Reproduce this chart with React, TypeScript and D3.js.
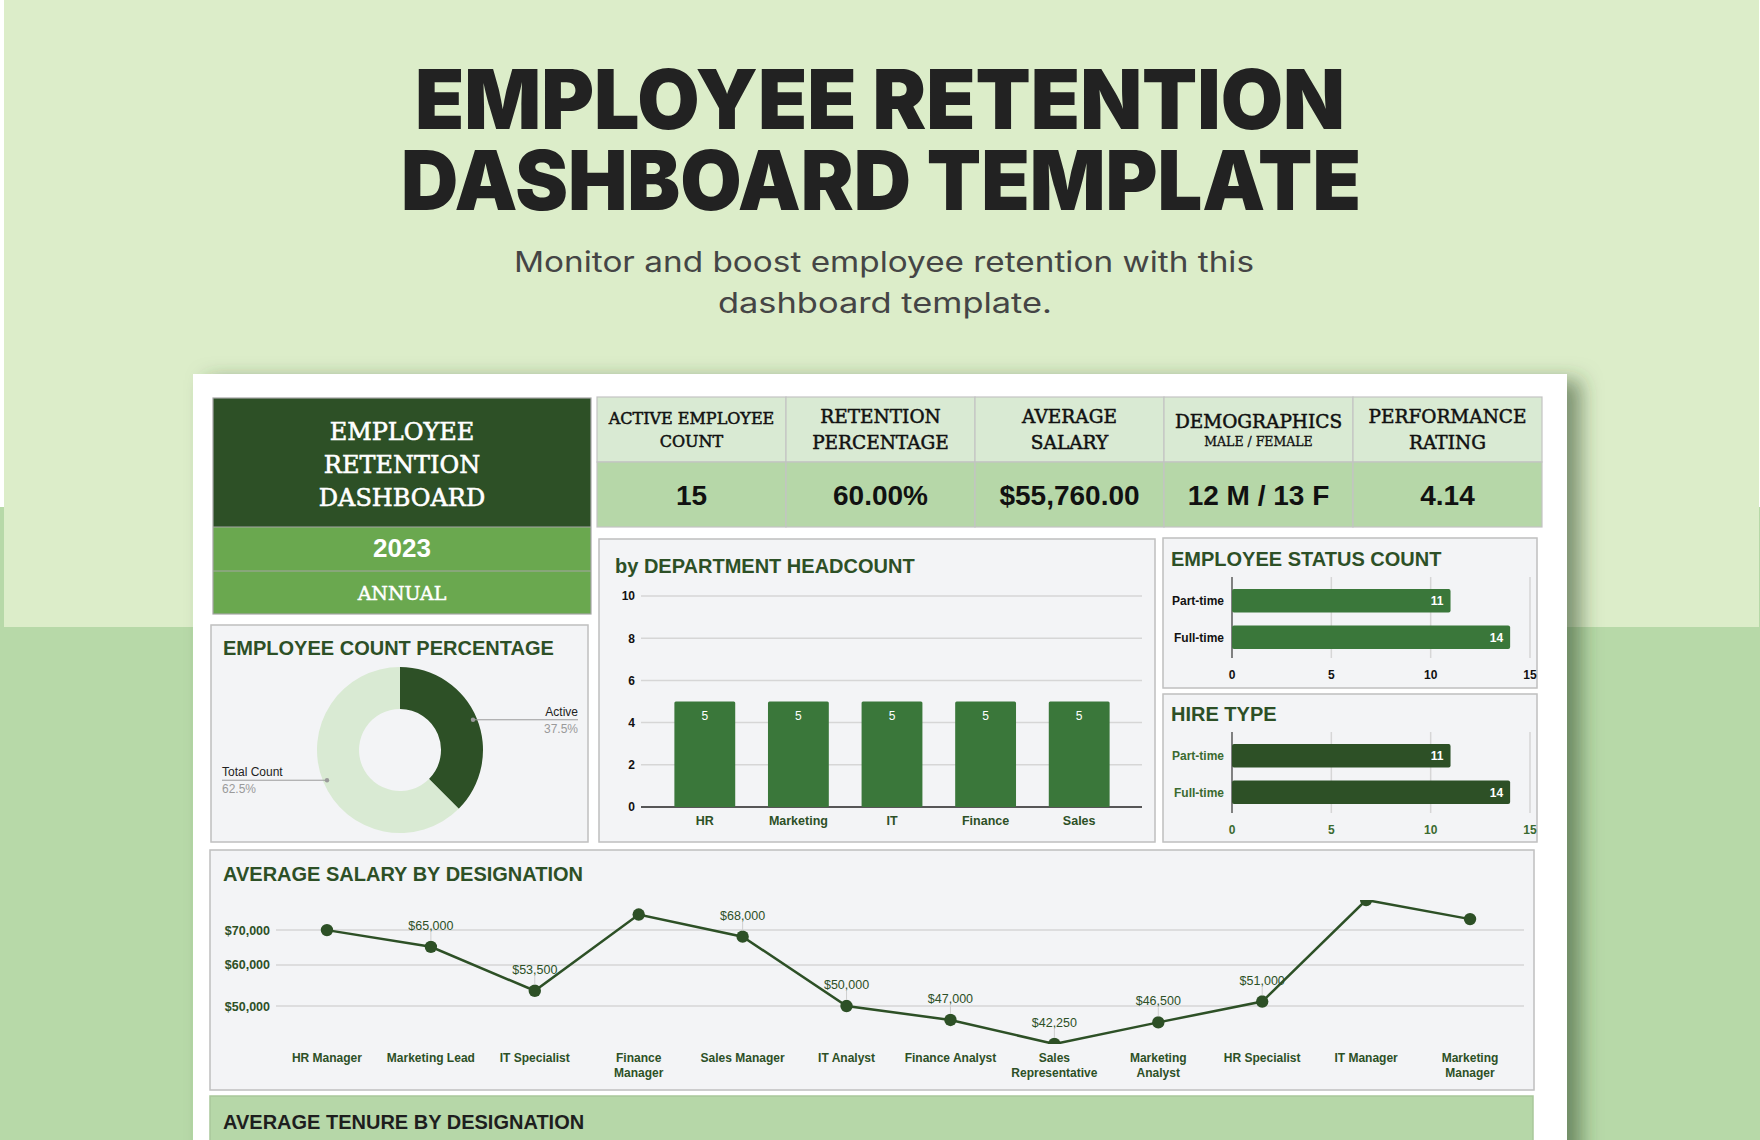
import React from "react";
import * as d3 from "d3";

// ---------- DATA ----------
const pageTitle = ["EMPLOYEE RETENTION", "DASHBOARD TEMPLATE"];
const pageSubtitle = ["Monitor and boost employee retention with this", "dashboard template."];

const boxTitle = ["EMPLOYEE", "RETENTION", "DASHBOARD"];
const boxYear = "2023";
const boxPeriod = "ANNUAL";

const kpiHeaders = [
  ["ACTIVE EMPLOYEE", "COUNT"],
  ["RETENTION", "PERCENTAGE"],
  ["AVERAGE", "SALARY"],
  ["DEMOGRAPHICS", "MALE / FEMALE"],
  ["PERFORMANCE", "RATING"],
];
const kpiValues = ["15", "60.00%", "$55,760.00", "12 M / 13 F", "4.14"];

const countLabels = ["Active", "Total Count"];
const countValues = [37.5, 62.5];

const deptCategories = ["HR", "Marketing", "IT", "Finance", "Sales"];
const deptValues = [5, 5, 5, 5, 5];
const deptTicks = [0, 2, 4, 6, 8, 10];

const statusCategories = ["Part-time", "Full-time"];
const statusValues = [11, 14];
const hireCategories = ["Part-time", "Full-time"];
const hireValues = [11, 14];
const hbarTicks = [0, 5, 10, 15];

const salaryDesignations = [
  "HR Manager", "Marketing Lead", "IT Specialist", "Finance Manager", "Sales Manager", "IT Analyst",
  "Finance Analyst", "Sales Representative", "Marketing Analyst", "HR Specialist", "IT Manager", "Marketing Manager",
];
const salaryAxisLabels = [
  "HR Manager", "Marketing Lead", "IT Specialist", "Finance\nManager", "Sales Manager", "IT Analyst",
  "Finance Analyst", "Sales\nRepresentative", "Marketing\nAnalyst", "HR Specialist", "IT Manager", "Marketing\nManager",
];
const salaryValues = [70000, 65000, 53500, 75000, 68000, 50000, 47000, 42250, 46500, 51000, 80000, 73500];
const salaryLabelShown = [false, true, true, false, true, true, true, true, true, true, false, false];
const salaryTicks = [50000, 60000, 70000];

// ---------- STYLE ----------
const SANS = "'Liberation Sans', Arial, Helvetica, sans-serif";
const SERIF = "'DejaVu Serif', Georgia, serif";
const DISPLAY = "Inter, 'Open Sans', sans-serif";
const DARK = "#2d5026";
const BAR = "#3a773a";
const BAND = "#6aa84f";
const PANEL = "#f3f4f6";
const PANEL_STROKE = "#bfbfbf";
const GRID = "#d6d6d6";

function Panel({ x, y, w, h, fill = PANEL, stroke = PANEL_STROKE }) {
  return <rect x={x} y={y} width={w} height={h} fill={fill} stroke={stroke} strokeWidth={1.5} />;
}

export default function App() {
  // Donut
  const pie = d3.pie<number>().sort(null).startAngle(0).endAngle(2 * Math.PI)(countValues);
  const arc = d3.arc<any>().innerRadius(41).outerRadius(83);
  const labelArc = d3.arc<any>().innerRadius(79).outerRadius(79);
  const donutCx = 400, donutCy = 750;

  // Dept bars
  const xDept = d3.scaleBand<string>().domain(deptCategories).range([658, 1126]).paddingInner(0.35).paddingOuter(0.175);
  const yDept = d3.scaleLinear().domain([0, 10]).range([807, 596]);

  // Horizontal bars
  const xH = d3.scaleLinear().domain([0, 15]).range([1232, 1530]);
  const yStatus = d3.scaleBand<string>().domain(statusCategories).range([578, 660]).paddingInner(0.356).paddingOuter(0.3);
  const yHire = d3.scaleBand<string>().domain(hireCategories).range([733, 815]).paddingInner(0.356).paddingOuter(0.3);

  // Salary line (log scale, auto range = data extent)
  const xSal = d3.scalePoint<string>().domain(salaryDesignations).range([275, 1522]).padding(0.5);
  const ySal = d3.scaleLog().domain(d3.extent(salaryValues) as [number, number]).range([1044, 900]);
  const salPts = salaryValues.map((v, i) => [xSal(salaryDesignations[i])!, ySal(v)] as [number, number]);
  const salLine = d3.line()(salPts)!;
  const fmtMoney = d3.format("$,.0f");

  const kpiX0 = 597, kpiW = 189;

  const hbar = (cats, vals, yScale, color, labelColor, tickColor, gridTop, gridBottom, tickY) => (
    <g>
      {hbarTicks.map((t) => (
        <line key={"g" + t} x1={xH(t)} x2={xH(t)} y1={gridTop} y2={gridBottom}
          stroke={t === 0 ? "#333" : GRID} strokeWidth={t === 0 ? 1.2 : 1.5} />
      ))}
      {cats.map((c, i) => (
        <g key={c}>
          <rect x={xH(0)} y={yScale(c)} width={xH(vals[i]) - xH(0)} height={yScale.bandwidth()} fill={color} rx={2} />
          <text x={xH(vals[i]) - 7} y={yScale(c) + yScale.bandwidth() / 2} dy="0.36em" textAnchor="end"
            fontFamily={SANS} fontWeight="bold" fontSize={12} fill="#fff">{vals[i]}</text>
          <text x={1224} y={yScale(c) + yScale.bandwidth() / 2} dy="0.36em" textAnchor="end"
            fontFamily={SANS} fontWeight="bold" fontSize={12} fill={labelColor}>{c}</text>
        </g>
      ))}
      {hbarTicks.map((t) => (
        <text key={"t" + t} x={xH(t)} y={tickY} textAnchor="middle" fontFamily={SANS} fontWeight="bold"
          fontSize={12} fill={tickColor}>{t}</text>
      ))}
    </g>
  );

  return (
    <svg width={1760} height={1140} viewBox="0 0 1760 1140"
      style={{ position: "absolute", left: 0, top: 0, display: "block" }}>
      <defs>
        <filter id="cardShadow" x="-10%" y="-10%" width="130%" height="130%">
          <feDropShadow dx={14} dy={6} stdDeviation={10} floodColor="#2f4a26" floodOpacity={0.55} />
        </filter>
        <clipPath id="statusClip"><rect x={1163} y={538} width={374} height={150} /></clipPath>
        <clipPath id="hireClip"><rect x={1163} y={694} width={374} height={148} /></clipPath>
        <clipPath id="salClip"><rect x={210} y={900} width={1324} height={144} /></clipPath>
      </defs>

      {/* background */}
      <rect x={0} y={0} width={1760} height={1140} fill="#b7d9a8" />
      <rect x={0} y={0} width={1760} height={507} fill="#ffffff" />
      <rect x={4} y={0} width={1755} height={627} fill="#dcedc9" />

      {/* page title (one text element, two lines) */}
      <text textAnchor="middle" fontFamily={DISPLAY} fontWeight={900} fontSize={83} fill="#222">
        <tspan x={880} y={129} textLength={930} lengthAdjust="spacingAndGlyphs">{pageTitle[0]}</tspan>
        <tspan x={881} y={210} textLength={960} lengthAdjust="spacingAndGlyphs">{pageTitle[1]}</tspan>
      </text>
      <text x={884} y={272} textAnchor="middle" fontFamily={DISPLAY} fontWeight={400} fontSize={28} fill="#454545"
        textLength={740} lengthAdjust="spacingAndGlyphs">{pageSubtitle[0]}</text>
      <text x={885} y={313} textAnchor="middle" fontFamily={DISPLAY} fontWeight={400} fontSize={28} fill="#454545"
        textLength={334} lengthAdjust="spacingAndGlyphs">{pageSubtitle[1]}</text>

      {/* card */}
      <rect x={193} y={374} width={1374} height={820} fill="#ffffff" filter="url(#cardShadow)" />

      {/* title box */}
      <rect x={213} y={398} width={378} height={129} fill={DARK} />
      <rect x={213} y={527} width={378} height={44} fill={BAND} />
      <rect x={213} y={571} width={378} height={43} fill={BAND} />
      <rect x={213} y={398} width={378} height={216} fill="none" stroke="#a5a5a5" strokeWidth={1.2} />
      <line x1={213} x2={591} y1={527} y2={527} stroke="#a5a5a5" strokeWidth={1} />
      <line x1={213} x2={591} y1={571} y2={571} stroke="#a5a5a5" strokeWidth={1} />
      {boxTitle.map((t, i) => (
        <text key={t} x={402} y={[440, 473, 506][i]} textAnchor="middle" fontFamily={SERIF} fontSize={24}
          fill="#fff" stroke="#fff" strokeWidth={0.6}>{t}</text>
      ))}
      <text x={402} y={557} textAnchor="middle" fontFamily={SANS} fontWeight="bold" fontSize={26} fill="#fff">{boxYear}</text>
      <text x={402} y={600} textAnchor="middle" fontFamily={SERIF} fontSize={19} fill="#fff" stroke="#fff"
        strokeWidth={0.5}>{boxPeriod}</text>

      {/* KPI table */}
      {kpiHeaders.map((hdr, i) => {
        const x = kpiX0 + kpiW * i;
        const cx = x + kpiW / 2;
        const small = i === 0;
        const demo = i === 3;
        return (
          <g key={i}>
            <rect x={x} y={397} width={kpiW} height={65} fill="#d9ead3" stroke="#c3c3c3" strokeWidth={1.2} />
            <rect x={x} y={462} width={kpiW} height={65} fill="#b6d7a8" stroke="#c3c3c3" strokeWidth={1.2} />
            <text x={cx} y={small ? 424 : demo ? 428 : 423} textAnchor="middle" fontFamily={SERIF}
              fontSize={small ? 16 : 18.5} fill="#111" stroke="#111" strokeWidth={0.5}>{hdr[0]}</text>
            <text x={cx} y={small ? 447 : demo ? 446 : 449} textAnchor="middle" fontFamily={SERIF}
              fontSize={small ? 16 : demo ? 12.5 : 18.5} fill="#111" stroke="#111"
              strokeWidth={demo ? 0.3 : 0.5}>{hdr[1]}</text>
            <text x={cx} y={505} textAnchor="middle" fontFamily={SANS} fontWeight="bold" fontSize={28}
              fill="#111">{kpiValues[i]}</text>
          </g>
        );
      })}

      {/* Employee count percentage */}
      <Panel x={211} y={625} w={377} h={217} />
      <text x={223} y={655} fontFamily={SANS} fontWeight="bold" fontSize={20} fill={DARK}>EMPLOYEE COUNT PERCENTAGE</text>
      <g transform={`translate(${donutCx},${donutCy})`}>
        {pie.map((p, i) => (
          <path key={i} d={arc(p)!} fill={i === 0 ? DARK : "#d9ead3"} />
        ))}
      </g>
      {pie.map((p, i) => {
        const [px, py] = labelArc.centroid(p);
        const dx = donutCx + px, dy = donutCy + py;
        const right = i === 0;
        const endX = right ? 578 : 222;
        return (
          <g key={"l" + i}>
            <line x1={dx} y1={dy} x2={endX} y2={dy} stroke="#9a9a9a" strokeWidth={1} />
            <circle cx={dx} cy={dy} r={2.2} fill="#9a9a9a" />
            <text x={endX} y={dy - 4} textAnchor={right ? "end" : "start"} fontFamily={SANS} fontSize={12}
              fill="#222">{countLabels[i]}</text>
            <text x={endX} y={dy + 13} textAnchor={right ? "end" : "start"} fontFamily={SANS} fontSize={12}
              fill="#9a9a9a">{countValues[i]}%</text>
          </g>
        );
      })}

      {/* Department headcount */}
      <Panel x={599} y={539} w={556} h={303} />
      <text x={615} y={573} fontFamily={SANS} fontWeight="bold" fontSize={20} fill={DARK}>by DEPARTMENT HEADCOUNT</text>
      {deptTicks.map((t) => (
        <g key={t}>
          <line x1={641} x2={1142} y1={yDept(t)} y2={yDept(t)} stroke={t === 0 ? "#222" : GRID}
            strokeWidth={t === 0 ? 1.4 : 1.5} />
          <text x={635} y={yDept(t)} dy="0.36em" textAnchor="end" fontFamily={SANS} fontWeight="bold"
            fontSize={12} fill="#111">{t}</text>
        </g>
      ))}
      {deptCategories.map((c, i) => (
        <g key={c}>
          <rect x={xDept(c)} y={yDept(deptValues[i])} width={xDept.bandwidth()} height={yDept(0) - yDept(deptValues[i])}
            fill={BAR} rx={1.5} />
          <text x={xDept(c)! + xDept.bandwidth() / 2} y={yDept(deptValues[i]) + 18} textAnchor="middle"
            fontFamily={SANS} fontSize={12} fill="#fff">{deptValues[i]}</text>
          <text x={xDept(c)! + xDept.bandwidth() / 2} y={825} textAnchor="middle" fontFamily={SANS}
            fontWeight="bold" fontSize={12.5} fill={DARK}>{c}</text>
        </g>
      ))}

      {/* Employee status count */}
      <Panel x={1163} y={538} w={374} h={150} />
      <text x={1171} y={566} fontFamily={SANS} fontWeight="bold" fontSize={20} fill={DARK}>EMPLOYEE STATUS COUNT</text>
      <g clipPath="url(#statusClip)">
        {hbar(statusCategories, statusValues, yStatus, BAR, "#111", "#111", 577, 658, 679)}
      </g>

      {/* Hire type */}
      <Panel x={1163} y={694} w={374} h={148} />
      <text x={1171} y={721} fontFamily={SANS} fontWeight="bold" fontSize={20} fill={DARK}>HIRE TYPE</text>
      <g clipPath="url(#hireClip)">
        {hbar(hireCategories, hireValues, yHire, DARK, "#3b6a30", "#3b6a30", 732, 813, 834)}
      </g>

      {/* Average salary by designation */}
      <Panel x={210} y={850} w={1324} h={240} />
      <text x={223} y={881} fontFamily={SANS} fontWeight="bold" fontSize={20} fill={DARK}>AVERAGE SALARY BY DESIGNATION</text>
      {salaryTicks.map((t) => (
        <g key={t}>
          <line x1={276} x2={1524} y1={ySal(t)} y2={ySal(t)} stroke={GRID} strokeWidth={1.5} />
          <text x={270} y={ySal(t)} dy="0.36em" textAnchor="end" fontFamily={SANS} fontWeight="bold"
            fontSize={12.5} fill={DARK}>{fmtMoney(t)}</text>
        </g>
      ))}
      <g clipPath="url(#salClip)">
        <path d={salLine} fill="none" stroke={DARK} strokeWidth={2.5} />
        {salPts.map(([x, y], i) => (
          <circle key={i} cx={x} cy={y} r={6.2} fill={DARK} />
        ))}
      </g>
      {salPts.map(([x, y], i) =>
        salaryLabelShown[i] ? (
          <g key={"sl" + i}>
            <line x1={x} x2={x} y1={y - 15} y2={y - 6} stroke="#cfcfcf" strokeWidth={1} />
            <text x={x} y={y - 17} textAnchor="middle" fontFamily={SANS} fontSize={12.5} fill={DARK}>
              {fmtMoney(salaryValues[i])}
            </text>
          </g>
        ) : null
      )}
      {salaryAxisLabels.map((lab, i) => (
        <text key={"ax" + i} x={xSal(salaryDesignations[i])} y={1062} textAnchor="middle" fontFamily={SANS}
          fontWeight="bold" fontSize={12} fill={DARK}>
          {lab.split("\n").map((ln, j) => (
            <tspan key={j} x={xSal(salaryDesignations[i])} dy={j === 0 ? 0 : 15}>{ln}</tspan>
          ))}
        </text>
      ))}

      {/* Average tenure panel (cut off) */}
      <Panel x={210} y={1096} w={1323} h={60} fill="#b6d7a8" stroke="#a9c79b" />
      <text x={223} y={1129} fontFamily={SANS} fontWeight="bold" fontSize={20} fill="#1e1e1e">AVERAGE TENURE BY DESIGNATION</text>
    </svg>
  );
}
